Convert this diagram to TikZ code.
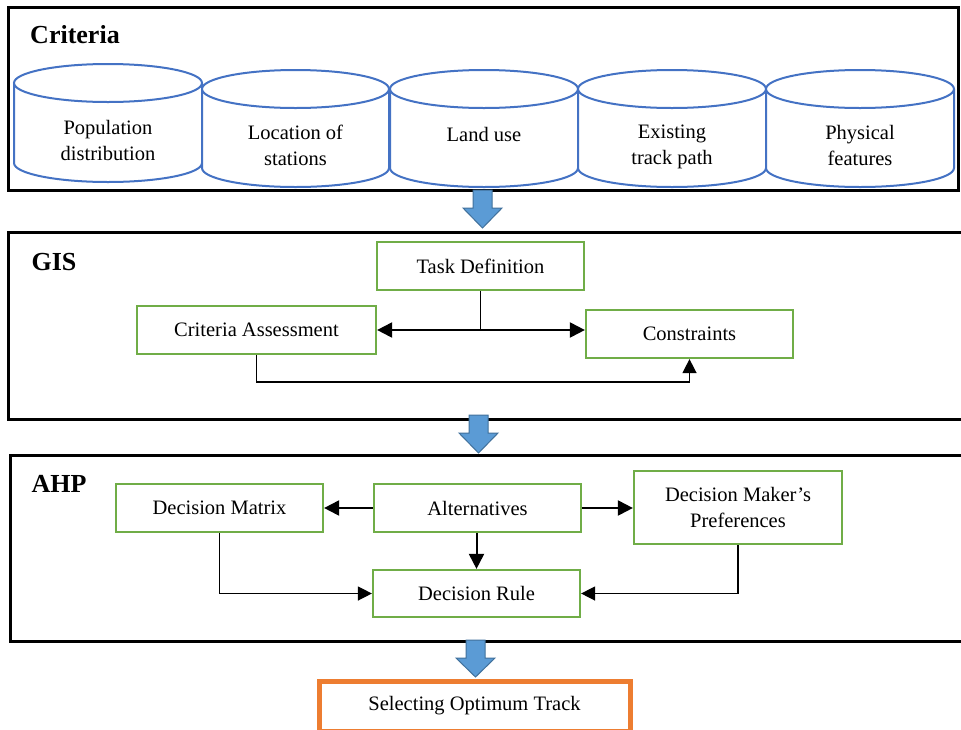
\documentclass[tikz,border=0pt]{standalone}
\usepackage{fontspec}
\setmainfont{Liberation Serif}
\usetikzlibrary{arrows.meta}
\definecolor{cylblue}{RGB}{68,114,196}
\definecolor{boxgreen}{RGB}{112,173,71}
\definecolor{arrfill}{RGB}{91,155,213}
\definecolor{arrdraw}{RGB}{65,113,156}
\definecolor{orng}{RGB}{237,125,49}
\tikzset{
  frame/.style={draw=black,line width=3pt},
  cyl/.style={draw=cylblue,line width=2pt,fill=white},
  cyltext/.style={align=center,font=\fontsize{20.5}{26}\selectfont},
  gbox/.style={draw=boxgreen,line width=2.2pt,fill=white,align=center,
    font=\fontsize{20.5}{26}\selectfont,minimum width=207pt,minimum height=48pt,inner sep=0pt},
  head/.style={font=\fontsize{26}{30}\selectfont\bfseries},
  arr/.style={draw=black,line width=2pt,-{Triangle[length=15pt,width=15pt]}},
  tarr/.style={draw=black,line width=1.4pt,-{Triangle[length=14pt,width=14pt]}},
  blockarr/.style={fill=arrfill,draw=arrdraw,line width=1pt,line join=miter}
}
\begin{document}
\begin{tikzpicture}[x=1pt,y=1pt]
\useasboundingbox (0,0) rectangle (961,-729);
\clip (0,0) rectangle (961,-729);
\fill[white] (0,0) rectangle (961,-729);

% ---------- Criteria frame ----------
\draw[frame] (8,-7) rectangle (958.5,-190);
\node[head] (hcrit) at (75,-35) {Criteria};

% cylinders: left, right, top-ellipse centre y, bottom-ellipse centre y
\foreach \L/\R/\yc/\yb/\nm in {14/202/83/163/c1, 202/389/89/168/c2, 390/578/89/168/c3, 578/766/89/168/c4, 766/954/89/168/c5}{
  \pgfmathsetmacro{\cx}{(\L+\R)/2}
  \pgfmathsetmacro{\ax}{(\R-\L)/2}
  \draw[cyl] (\L,-\yc) -- (\L,-\yb) arc[start angle=180,end angle=360,x radius=\ax,y radius=19] -- (\R,-\yc);
  \draw[cyl] (\cx,-\yc) ellipse[x radius=\ax,y radius=19];
}
\node[cyltext] (t1) at (108,-140) {Population\\distribution};
\node[cyltext] (t2) at (295.5,-145.5) {Location of\\stations};
\node[cyltext] (t3) at (484,-134) {Land use};
\node[cyltext] (t4) at (672,-146.5) {Existing\\track path};
\node[cyltext] (t5) at (860,-145.5) {Physical\\features};

% ---------- GIS frame ----------
\draw[frame] (8,-232) rectangle (990,-419);
\node[head] (hgis) at (54,-262) {GIS};
\node[gbox] (TD) at (480.5,-266) {Task Definition};
\node[gbox,minimum width=239pt] (CA) at (256.5,-330) {Criteria Assessment};
\node[gbox] (CO) at (689.5,-334) {Constraints};
\coordinate (j) at (TD.south |- 0,-330);
\draw[line width=1.4pt] (TD.south) -- (j);
\draw[arr] (j) -- (CA.east);
\draw[arr] (j) -- (CO.west |- j);
\draw[tarr] (CA.south) -- ++(0,-27) -| (CO.south);

% ---------- AHP frame ----------
\draw[frame] (10,-455) rectangle (990,-641);
\node[head] (hahp) at (59,-484) {AHP};
\node[gbox] (DM) at (219.5,-508) {Decision Matrix};
\node[gbox] (AL) at (477.5,-508) {Alternatives};
\node[gbox,minimum width=208pt,minimum height=73pt] (DMP) at (738,-507.5) {Decision Maker’s\\Preferences};
\node[gbox,minimum height=47pt] (DR) at (476.5,-593.5) {Decision Rule};
\draw[arr] (AL.west) -- (DM.east);
\draw[arr] (AL.east) -- (DMP.west |- AL.east);
\draw[arr] (AL.south -| DR.north) -- (DR.north);
\draw[tarr] (DM.south) |- (DR.west);
\draw[tarr] (DMP.south) |- (DR.east);

% ---------- Result ----------
\node[draw=orng,line width=5pt,fill=white,minimum width=311pt,minimum height=50pt,inner sep=0pt,
  font=\fontsize{20.5}{26}\selectfont] (SOT) at (474.5,-706) {Selecting Optimum Track};

% ---------- block arrows ----------
\foreach \cx/\ya/\yn/\yt in {482.5/190/208/228, 478.5/415/433/453, 475.5/640/658/677}{
  \draw[blockarr] (\cx-9.5,-\ya) -- (\cx+9.5,-\ya) -- (\cx+9.5,-\yn) -- (\cx+19.5,-\yn)
     -- (\cx,-\yt) -- (\cx-19.5,-\yn) -- (\cx-9.5,-\yn) -- cycle;
}
\end{tikzpicture}
\end{document}
